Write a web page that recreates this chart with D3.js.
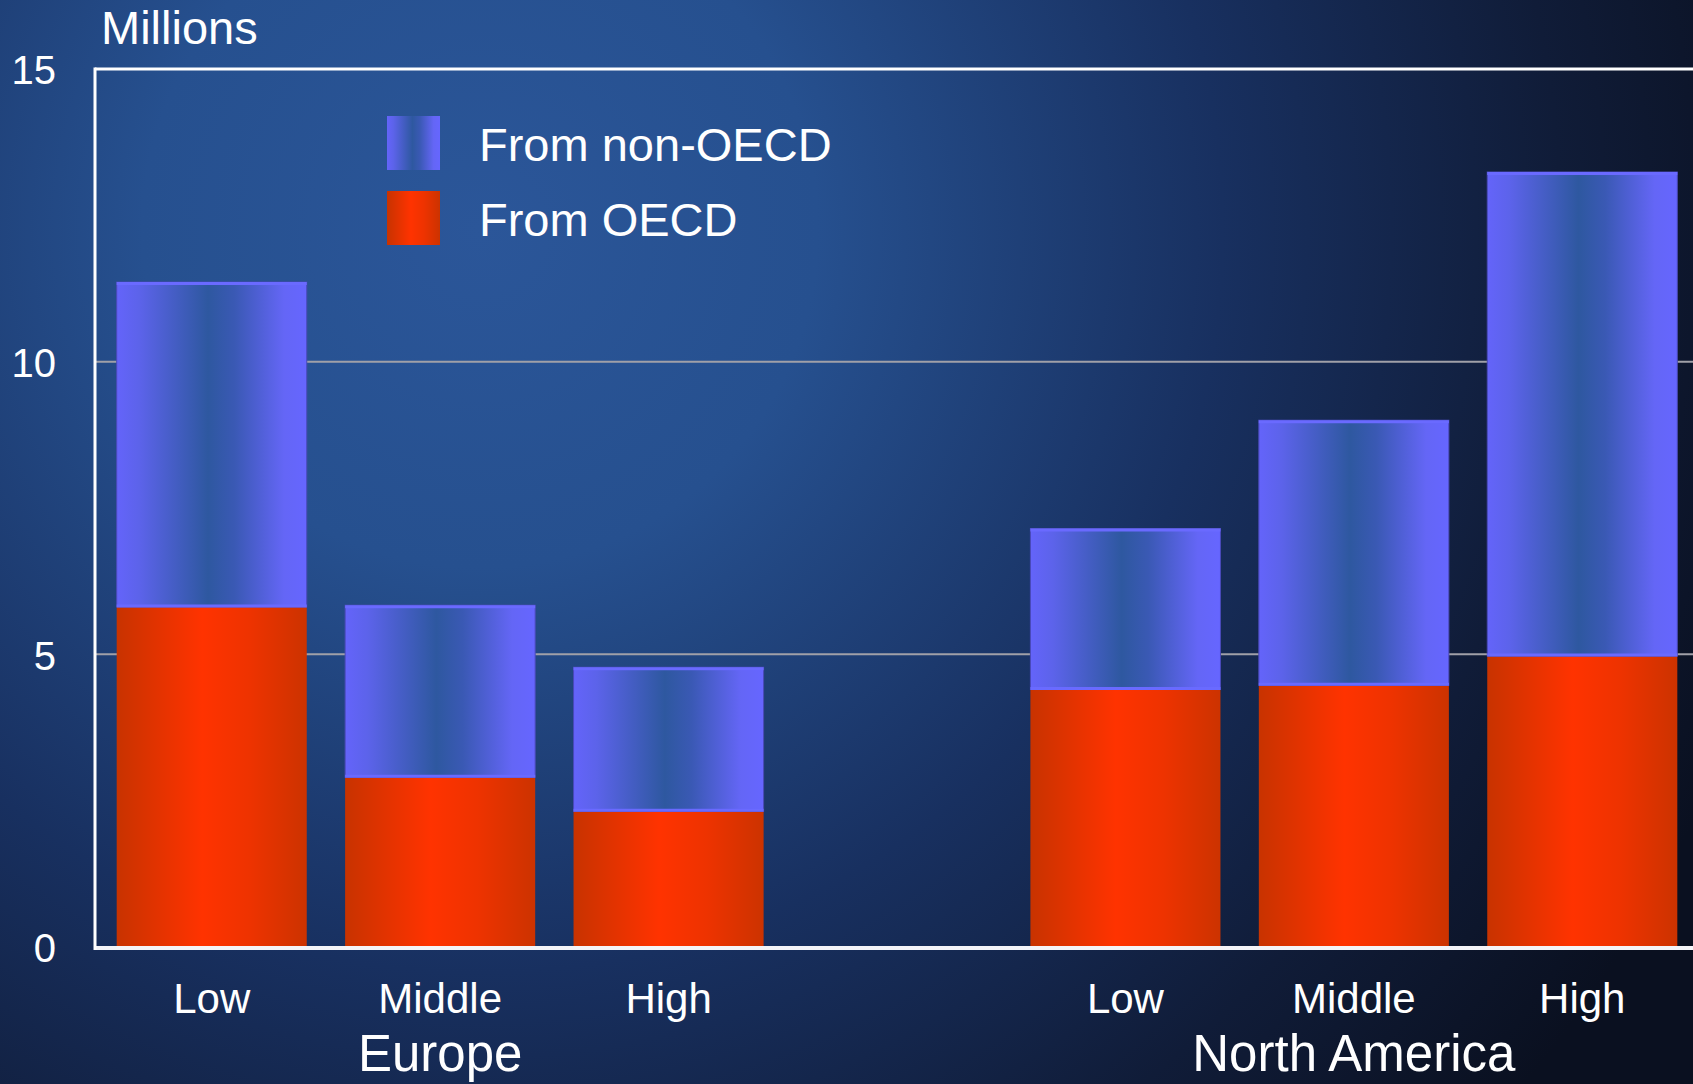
<!DOCTYPE html>
<html>
<head>
<meta charset="utf-8">
<script src="https://cdn.jsdelivr.net/npm/d3@7"></script>
<style>
html,body{margin:0;padding:0;background:#0b1222;overflow:hidden;}
svg{display:block;}
text{font-family:"Liberation Sans",Arial,sans-serif;fill:#ffffff;}
</style>
</head>
<body>
<svg id="chart" width="1693" height="1084"></svg>
<script>
// ---- data ----
const categories = ["Low", "Middle", "High", "Low", "Middle", "High"];
const regions = ["Europe", "Europe", "Europe", "North America", "North America", "North America"];
const fromOECD = [5.81, 2.90, 2.32, 4.40, 4.47, 4.97];
const fromNonOECD = [5.55, 2.94, 2.46, 2.75, 4.53, 8.27]; // stacked on top of OECD
const seriesNames = ["From non-OECD", "From OECD"];
const yTicks = [0, 5, 10, 15];
const groupLabels = ["Europe", "North America"];

// ---- layout ----
const W = 1693, H = 1084;
const mLeft = 95, mTop = 69, mBottom = 947, mRight = 1699;
const svg = d3.select("#chart");
const defs = svg.append("defs");

// background radial gradient
const bg = defs.append("radialGradient").attr("id", "bg")
  .attr("gradientUnits", "userSpaceOnUse")
  .attr("cx", 480).attr("cy", 230).attr("r", 1350)
  .attr("fx", 480).attr("fy", 230);
[[0, "#2b5699"], [0.25, "#26508f"], [0.55, "#183060"], [0.8, "#101c38"], [1, "#0a1020"]]
  .forEach(([o, c]) => bg.append("stop").attr("offset", o).attr("stop-color", c));
svg.append("rect").attr("width", W).attr("height", H).attr("fill", "url(#bg)");

// bar gradients
const gBlue = defs.append("linearGradient").attr("id", "gBlue").attr("x1", 0).attr("x2", 1).attr("y1", 0).attr("y2", 0);
[[0, "#6464fa"], [0.12, "#5c63ea"], [0.48, "#2e58a0"], [0.62, "#3a59b4"], [0.88, "#6466f6"], [1, "#6666ff"]]
  .forEach(([o, c]) => gBlue.append("stop").attr("offset", o).attr("stop-color", c));
const gRed = defs.append("linearGradient").attr("id", "gRed").attr("x1", 0).attr("x2", 1).attr("y1", 0).attr("y2", 0);
[[0, "#c83300"], [0.45, "#ff3300"], [0.7, "#ee3300"], [1, "#cc3300"]]
  .forEach(([o, c]) => gRed.append("stop").attr("offset", o).attr("stop-color", c));

// scales
const keys = ["E0", "E1", "E2", "gap", "N0", "N1", "N2"];
const barKeys = ["E0", "E1", "E2", "N0", "N1", "N2"];
const x = d3.scaleBand().domain(keys).range([mLeft, mRight]).paddingInner(0.168).paddingOuter(0.095);
const y = d3.scaleLinear().domain([0, 15]).range([mBottom, mTop]);

// gridlines
svg.append("g").selectAll("line").data(yTicks.filter(t => t > 0 && t < 15)).join("line")
  .attr("x1", mLeft).attr("x2", W).attr("y1", d => y(d)).attr("y2", d => y(d))
  .attr("stroke", "#a0a0a8").attr("stroke-width", 2);

// bars
const data = barKeys.map((k, i) => ({ key: k, oecd: fromOECD[i], non: fromNonOECD[i] }));
const bars = svg.append("g");
bars.selectAll("rect.red").data(data).join("rect").attr("class", "red")
  .attr("x", d => x(d.key)).attr("width", x.bandwidth())
  .attr("y", d => y(d.oecd)).attr("height", d => y(0) - y(d.oecd))
  .attr("fill", "url(#gRed)");
bars.selectAll("rect.blue").data(data).join("rect").attr("class", "blue")
  .attr("x", d => x(d.key)).attr("width", x.bandwidth())
  .attr("y", d => y(d.oecd + d.non)).attr("height", d => y(d.oecd) - y(d.oecd + d.non))
  .attr("fill", "url(#gBlue)").attr("stroke", "#4a4ab8").attr("stroke-width", 1);
bars.selectAll("line.hl").data(data).join("line").attr("class", "hl")
  .attr("x1", d => x(d.key)).attr("x2", d => x(d.key) + x.bandwidth())
  .attr("y1", d => y(d.oecd + d.non) + 1.5).attr("y2", d => y(d.oecd + d.non) + 1.5)
  .attr("stroke", "#6a6aff").attr("stroke-width", 3);
bars.selectAll("line.hl2").data(data).join("line").attr("class", "hl2")
  .attr("x1", d => x(d.key)).attr("x2", d => x(d.key) + x.bandwidth())
  .attr("y1", d => y(d.oecd) - 1).attr("y2", d => y(d.oecd) - 1)
  .attr("stroke", "#6a6aff").attr("stroke-width", 3);

// axis frame lines
svg.append("line").attr("x1", mLeft).attr("x2", W).attr("y1", y(15)).attr("y2", y(15))
  .attr("stroke", "#ffffff").attr("stroke-width", 3);
svg.append("line").attr("x1", mLeft).attr("x2", W).attr("y1", y(0) + 1).attr("y2", y(0) + 1)
  .attr("stroke", "#f4f4f8").attr("stroke-width", 4);
svg.append("line").attr("x1", mLeft).attr("x2", mLeft).attr("y1", y(15) - 1.5).attr("y2", y(0) + 3)
  .attr("stroke", "#ffffff").attr("stroke-width", 3);

// y axis labels
const yAxis = svg.append("g").attr("transform", `translate(${mLeft},0)`)
  .call(d3.axisLeft(y).tickValues(yTicks).tickSize(0).tickPadding(39).tickFormat(d3.format("d")));
yAxis.select(".domain").remove();
yAxis.selectAll("text").attr("dy", "0.37em").style("font-size", "40px")
  .style("font-family", "'Liberation Sans',Arial,sans-serif").attr("fill", "#fff");

// x axis labels
const catMap = {};
barKeys.forEach((k, i) => catMap[k] = categories[i]);
const xAxis = svg.append("g").attr("transform", `translate(0,${mBottom})`)
  .call(d3.axisBottom(x).tickSize(0).tickPadding(36).tickFormat(k => catMap[k] || ""));
xAxis.select(".domain").remove();
xAxis.selectAll("text").style("font-size", "42px")
  .style("font-family", "'Liberation Sans',Arial,sans-serif").attr("fill", "#fff");

// group labels
const groupKeys = ["E1", "N1"];
svg.append("g").selectAll("text").data(groupLabels).join("text")
  .attr("x", (d, i) => x(groupKeys[i]) + x.bandwidth() / 2)
  .attr("y", 1071).attr("text-anchor", "middle").style("font-size", "51px").text(d => d);

// units label
svg.append("text").attr("x", 101).attr("y", 44).style("font-size", "47px").text("Millions");

// legend
const legend = svg.append("g");
const legendFills = ["url(#gBlue)", "url(#gRed)"];
const legendY = [116, 191];
legend.selectAll("rect").data(seriesNames).join("rect")
  .attr("x", 387).attr("width", 53).attr("y", (d, i) => legendY[i]).attr("height", 54)
  .attr("fill", (d, i) => legendFills[i]);
legend.selectAll("text").data(seriesNames).join("text")
  .attr("x", 479).attr("y", (d, i) => legendY[i] + 45)
  .style("font-size", "47px").text(d => d);
</script>
</body>
</html>
